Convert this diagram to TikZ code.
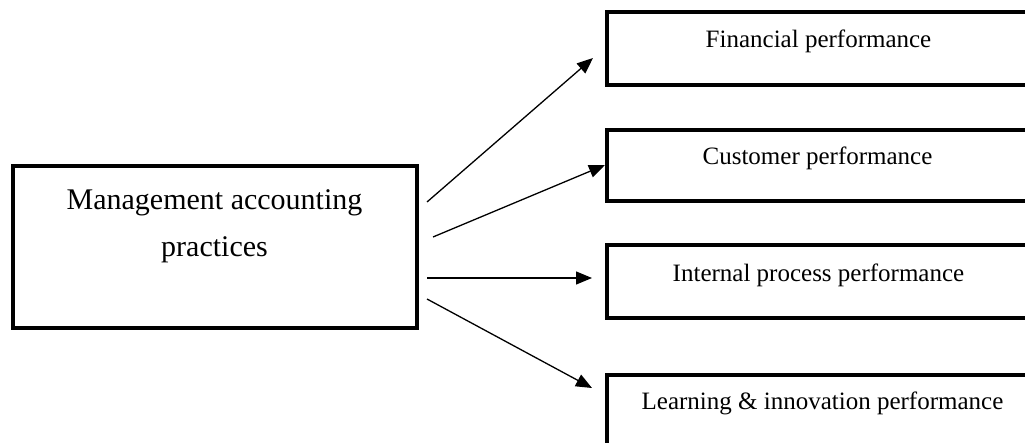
\documentclass[tikz,border=0pt]{standalone}
\usepackage{fontspec}
\setmainfont{Liberation Serif}
\usetikzlibrary{arrows.meta}
\begin{document}
\begin{tikzpicture}[x=0.5pt,y=-0.5pt,
  perfbox/.style={draw=black, line width=2pt, inner sep=0pt, outer sep=0pt,
    anchor=north west, font=\fontsize{12.5pt}{15pt}\selectfont},
  mainbox/.style={draw=black, line width=2pt, inner sep=0pt, outer sep=0pt},
  arr/.style={line width=0.65pt, -{Triangle[length=8pt,width=6.5pt]}}]
\useasboundingbox (0,0) rectangle (1025,443);
\clip (0,0) rectangle (1025,443);
% main box
\node[mainbox, minimum width=202pt, minimum height=81pt] (map) at (215,247) {};
\node[font=\fontsize{15pt}{23.5pt}\selectfont, align=center, anchor=base, inner sep=0pt] (mapT) at (214.5,257) {Management accounting\\practices};
% performance boxes
\node[perfbox, minimum width=211.5pt, minimum height=36.5pt, text height=17.85pt, text depth=18.65pt] (fin) at (607,12) {Financial performance};
\node[perfbox, minimum width=210.5pt, minimum height=35.5pt, text height=17.5pt, text depth=18pt] (cus) at (607,130) {Customer performance};
\node[perfbox, minimum width=211.5pt, minimum height=36.5pt, text height=18.35pt, text depth=18.15pt] (int) at (607,245) {Internal process performance};
\node[perfbox, minimum width=215.5pt, minimum height=37.5pt, text height=17.5pt, text depth=20pt] (lrn) at (607,375) {Learning \& innovation performance};
% connector ends
\coordinate (s1) at (427,202);
\coordinate (t1) at (593,58);
\coordinate (s2) at (433,237);
\coordinate (t2) at (605,165);
\coordinate (s3) at (427,278);
\coordinate (t3) at (592,278);
\coordinate (s4) at (427,299);
\coordinate (t4) at (592,388);
\draw[arr] (s1) -- (t1);
\draw[arr] (s2) -- (t2);
\draw[arr] (s3) -- (t3);
\draw[arr] (s4) -- (t4);
\end{tikzpicture}
\end{document}
